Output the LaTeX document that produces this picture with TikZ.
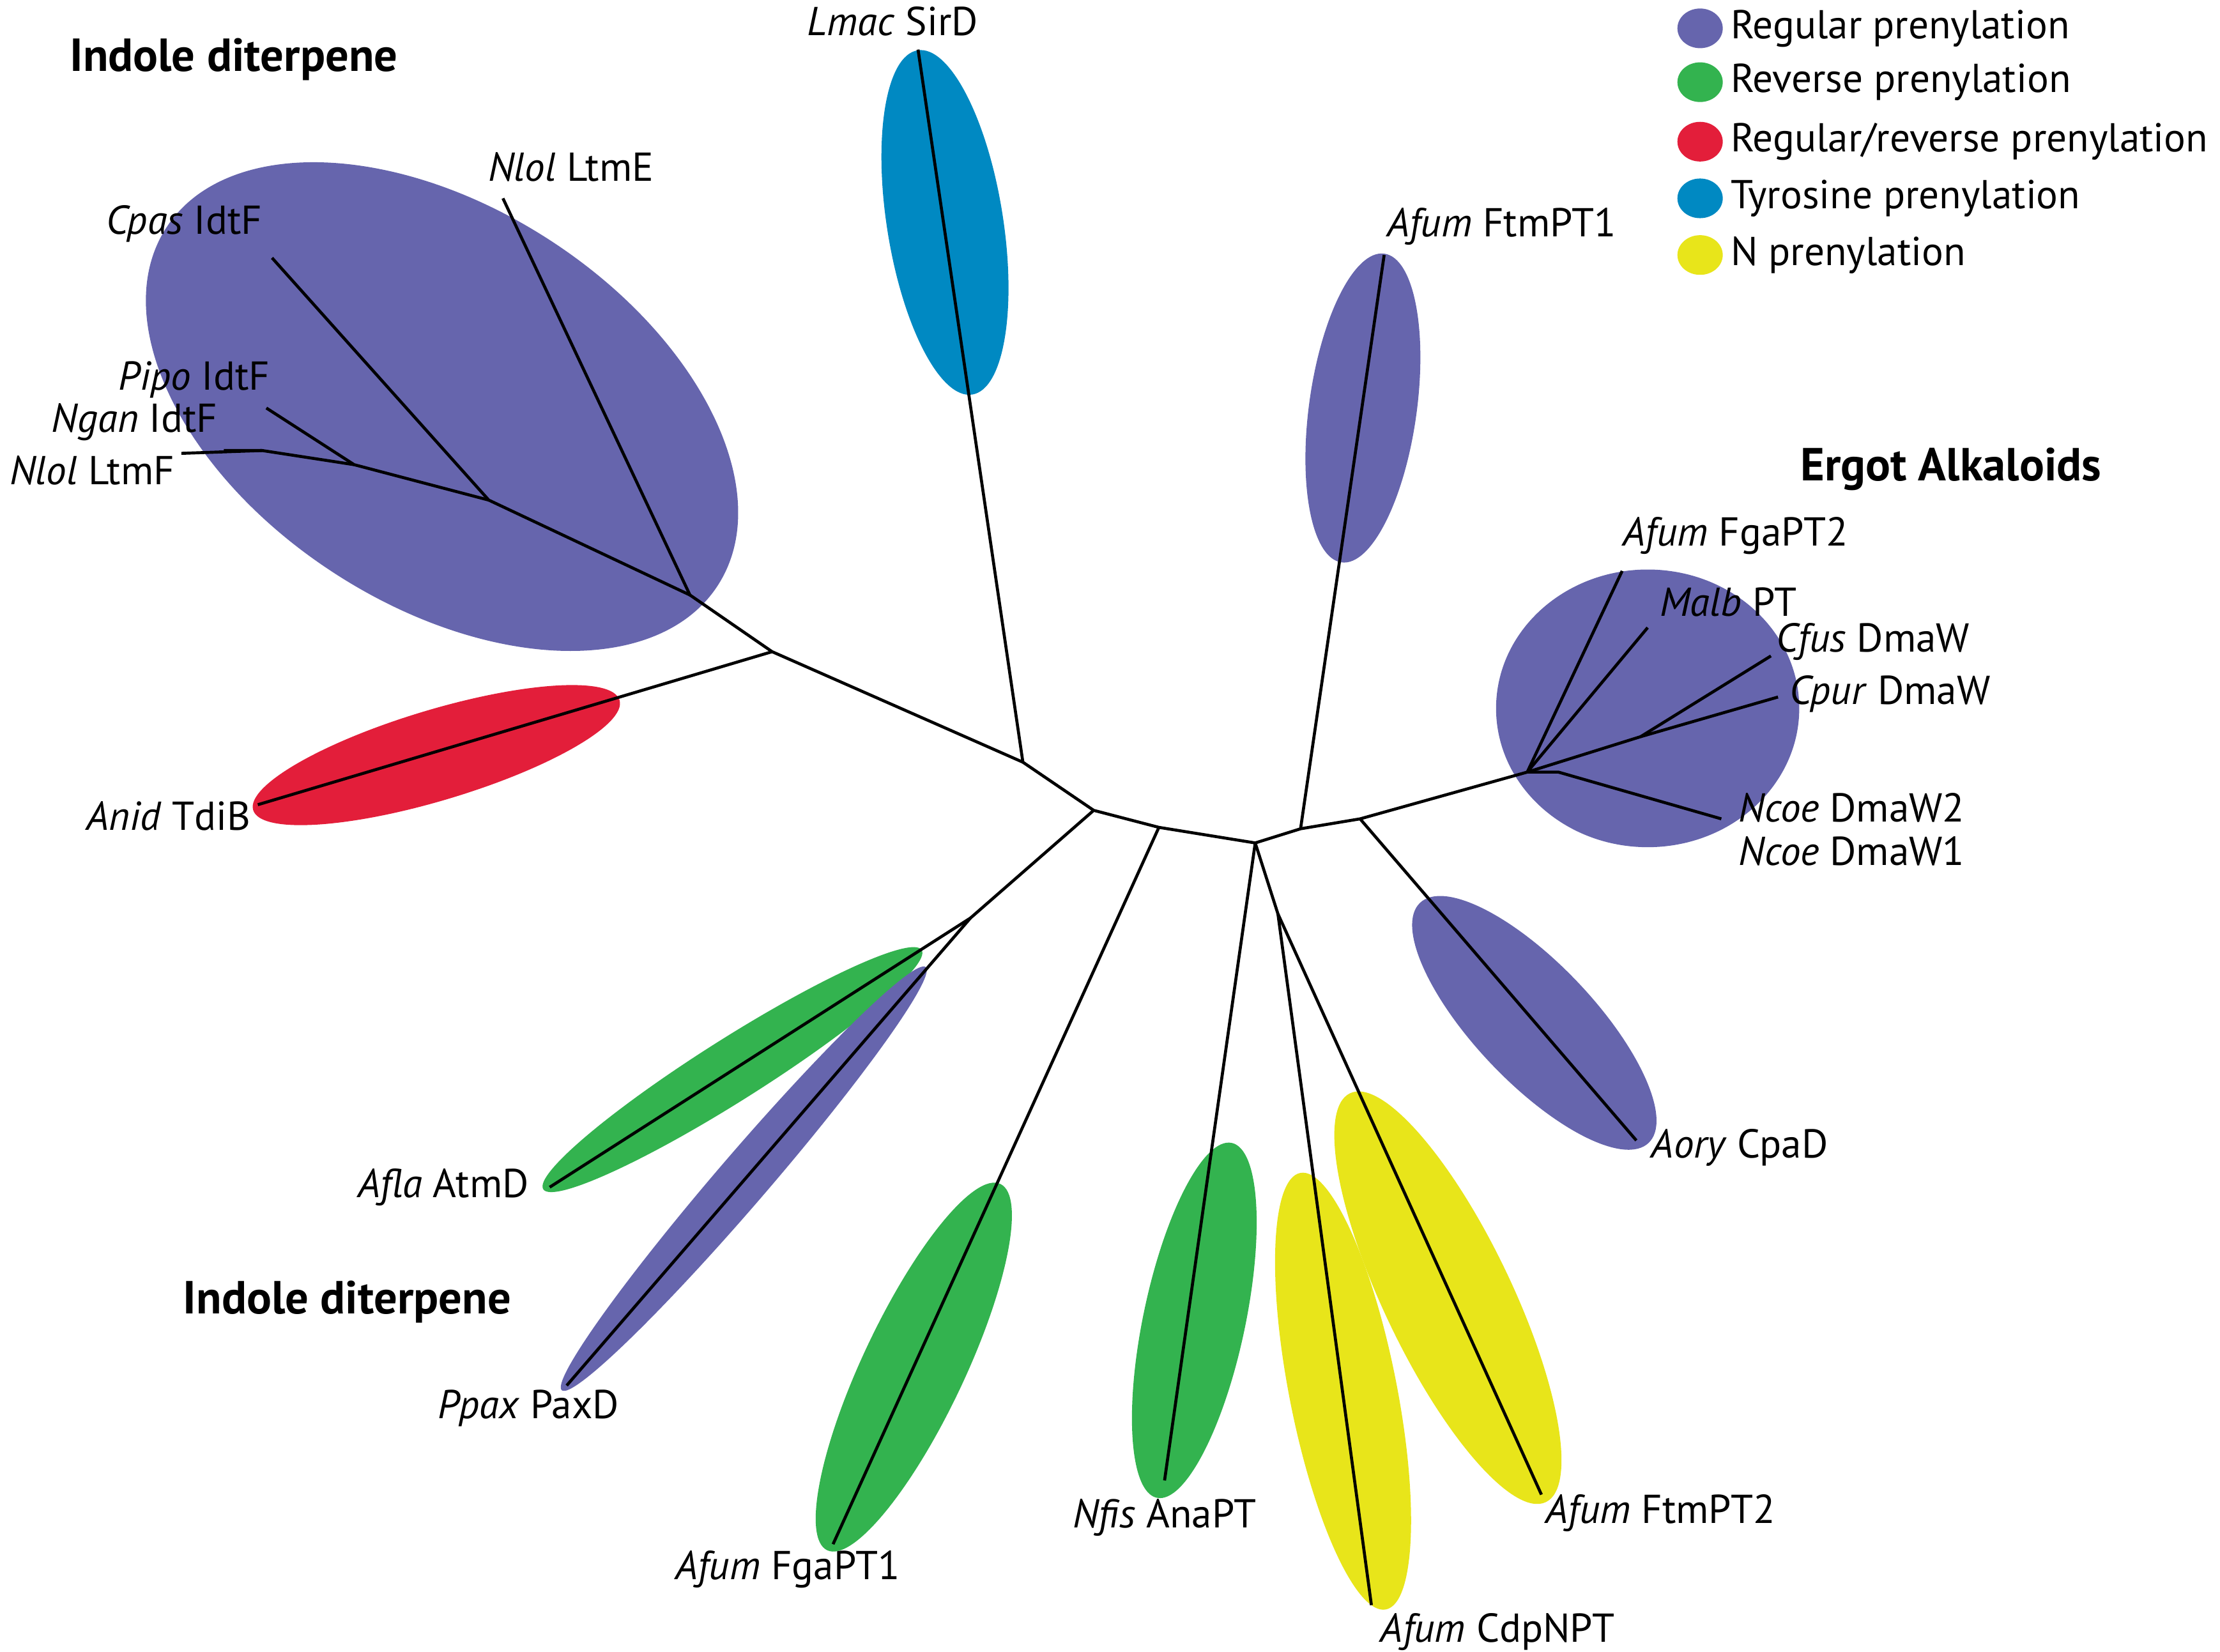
\documentclass[tikz,border=0pt]{standalone}
\usepackage{fontspec}
\setmainfont{PT Sans}
\definecolor{cpur}{HTML}{6665AD}
\definecolor{cgre}{HTML}{33B34F}
\definecolor{cred}{HTML}{E31E3A}
\definecolor{cblu}{HTML}{0089C2}
\definecolor{cyel}{HTML}{E8E51A}
\begin{document}
\begin{tikzpicture}[x=0.01cm,y=-0.01cm,
  lab/.style={font=\fontsize{8.1}{9}\selectfont,inner sep=0pt},
  ttl/.style={font=\fontsize{9.3}{10}\selectfont\bfseries,inner sep=0pt},
  br/.style={line width=0.6pt,black}]
\useasboundingbox (0,0) rectangle (1567,1166);
\newcommand{\myell}[6]{\fill[#1,rotate around={-#4:(#2,#3)}] (#2,#3) ellipse (#5 and #6);}
\myell{cpur}{312}{287}{33}{232}{140}
\myell{cred}{308}{533}{-16.7}{135}{32}
\myell{cblu}{667}{157}{81}{123}{41}
\myell{cpur}{962}{288}{97.9}{110}{38}
\myell{cpur}{1163}{500}{0}{107}{98}
\myell{cpur}{1083}{722}{46.4}{117}{42}
\myell{cyel}{1022}{916}{64.4}{160}{45}
\myell{cyel}{948}{982}{78.9}{157}{38}
\myell{cgre}{843}{932}{101.9}{128}{36}
\myell{cgre}{645}{965}{115.3}{143}{36}
\myell{cgre}{517}{755}{147.7}{158}{22}
\myell{cpur}{525}{832}{130.7}{197}{18}
% internal nodes
\coordinate (A) at (545,460); \coordinate (B) at (722,538);
\coordinate (C) at (772,572); \coordinate (D) at (818,584);
\coordinate (E) at (886,595); \coordinate (F) at (918,585);
\coordinate (G) at (960,578); \coordinate (H) at (1078,545);
\coordinate (J) at (487,420); \coordinate (K) at (345,353);
\coordinate (L) at (250,328); \coordinate (M) at (185,318);
\coordinate (N) at (685,648); \coordinate (P) at (902,645);
\coordinate (Q) at (1158,520); \coordinate (R) at (1100,545);
% tips
\coordinate (tLtmE) at (355,140); \coordinate (tCpas) at (192,182);
\coordinate (tPipo) at (188,288); \coordinate (tNgan) at (158,318);
\coordinate (tNlol) at (128,320);
\coordinate (tAnid) at (182,568); \coordinate (tSirD) at (648,35);
\coordinate (tAfla) at (388,838); \coordinate (tPpax) at (400,978);
\coordinate (tFga1) at (588,1090); \coordinate (tAna) at (822,1045);
\coordinate (tCdp) at (968,1133); \coordinate (tFtm2) at (1088,1055);
\coordinate (tFtm1) at (977,180); \coordinate (tCpaD) at (1155,805);
\coordinate (tFga2) at (1145,403); \coordinate (tMalb) at (1163,443);
\coordinate (tCfus) at (1250,463); \coordinate (tCpur) at (1255,492);
\coordinate (tNcoe) at (1215,578);
\draw[br] (A)--(B)--(C)--(D)--(E)--(F)--(G)--(H);
\draw[br] (A)--(J)--(tLtmE); \draw[br] (J)--(K)--(tCpas);
\draw[br] (K)--(L)--(tPipo); \draw[br] (L)--(M)--(tNgan);
\draw[br] (M)--(tNlol);
\draw[br] (A)--(tAnid); \draw[br] (B)--(tSirD);
\draw[br] (C)--(N)--(tAfla); \draw[br] (N)--(tPpax);
\draw[br] (D)--(tFga1); \draw[br] (E)--(tAna);
\draw[br] (E)--(P)--(tCdp); \draw[br] (P)--(tFtm2);
\draw[br] (F)--(tFtm1); \draw[br] (G)--(tCpaD);
\draw[br] (H)--(tFga2); \draw[br] (H)--(tMalb);
\draw[br] (H)--(Q)--(tCfus); \draw[br] (Q)--(tCpur);
\draw[br] (H)--(R)--(tNcoe);
% labels
\node[lab] (l1) at (630,15) {\textit{Lmac} SirD};
\node[lab] (l2) at (403,118) {\textit{Nlol} LtmE};
\node[lab] (l3) at (130,158) {\textit{Cpas} IdtF};
\node[lab] (l4) at (137,268) {\textit{Pipo} IdtF};
\node[lab] (l5) at (95,298) {\textit{Ngan} IdtF};
\node[lab] (l6) at (65,332) {\textit{Nlol} LtmF};
\node[lab] (l7) at (119,576) {\textit{Anid} TdiB};
\node[lab] (l8) at (1060,160) {\textit{Afum} FtmPT1};
\node[lab] (l9) at (1225,378) {\textit{Afum} FgaPT2};
\node[lab] (l10) at (1220,425) {\textit{Malb} PT};
\node[lab] (l11) at (1322,453) {\textit{Cfus} DmaW};
\node[lab] (l12) at (1334,490) {\textit{Cpur} DmaW};
\node[lab] (l13) at (1307,570) {\textit{Ncoe} DmaW2};
\node[lab] (l14) at (1307,601) {\textit{Ncoe} DmaW1};
\node[lab] (l15) at (1228,810) {\textit{Aory} CpaD};
\node[lab] (l16) at (1172,1068) {\textit{Afum} FtmPT2};
\node[lab] (l17) at (1057,1152) {\textit{Afum} CdpNPT};
\node[lab] (l18) at (822,1071) {\textit{Nfis} AnaPT};
\node[lab] (l19) at (556,1108) {\textit{Afum} FgaPT1};
\node[lab] (l20) at (373,994) {\textit{Ppax} PaxD};
\node[lab] (l21) at (313,838) {\textit{Afla} AtmD};
\node[ttl] (t1) at (165,42) {Indole diterpene};
\node[ttl] (t2) at (1377,331) {Ergot Alkaloids};
\node[ttl] (t3) at (245,919) {Indole diterpene};
% legend
\foreach \c/\y/\t [count=\i] in {cpur/20/{Regular prenylation},cgre/58/{Reverse prenylation},cred/100/{Regular/reverse prenylation},cblu/140/{Tyrosine prenylation},cyel/180/{N prenylation}}{
  \fill[\c] (1200,\y) ellipse (16 and 14);
  \node[lab,anchor=west] (leg\i) at (1221,\y) {\t};
}
\end{tikzpicture}
\end{document}
